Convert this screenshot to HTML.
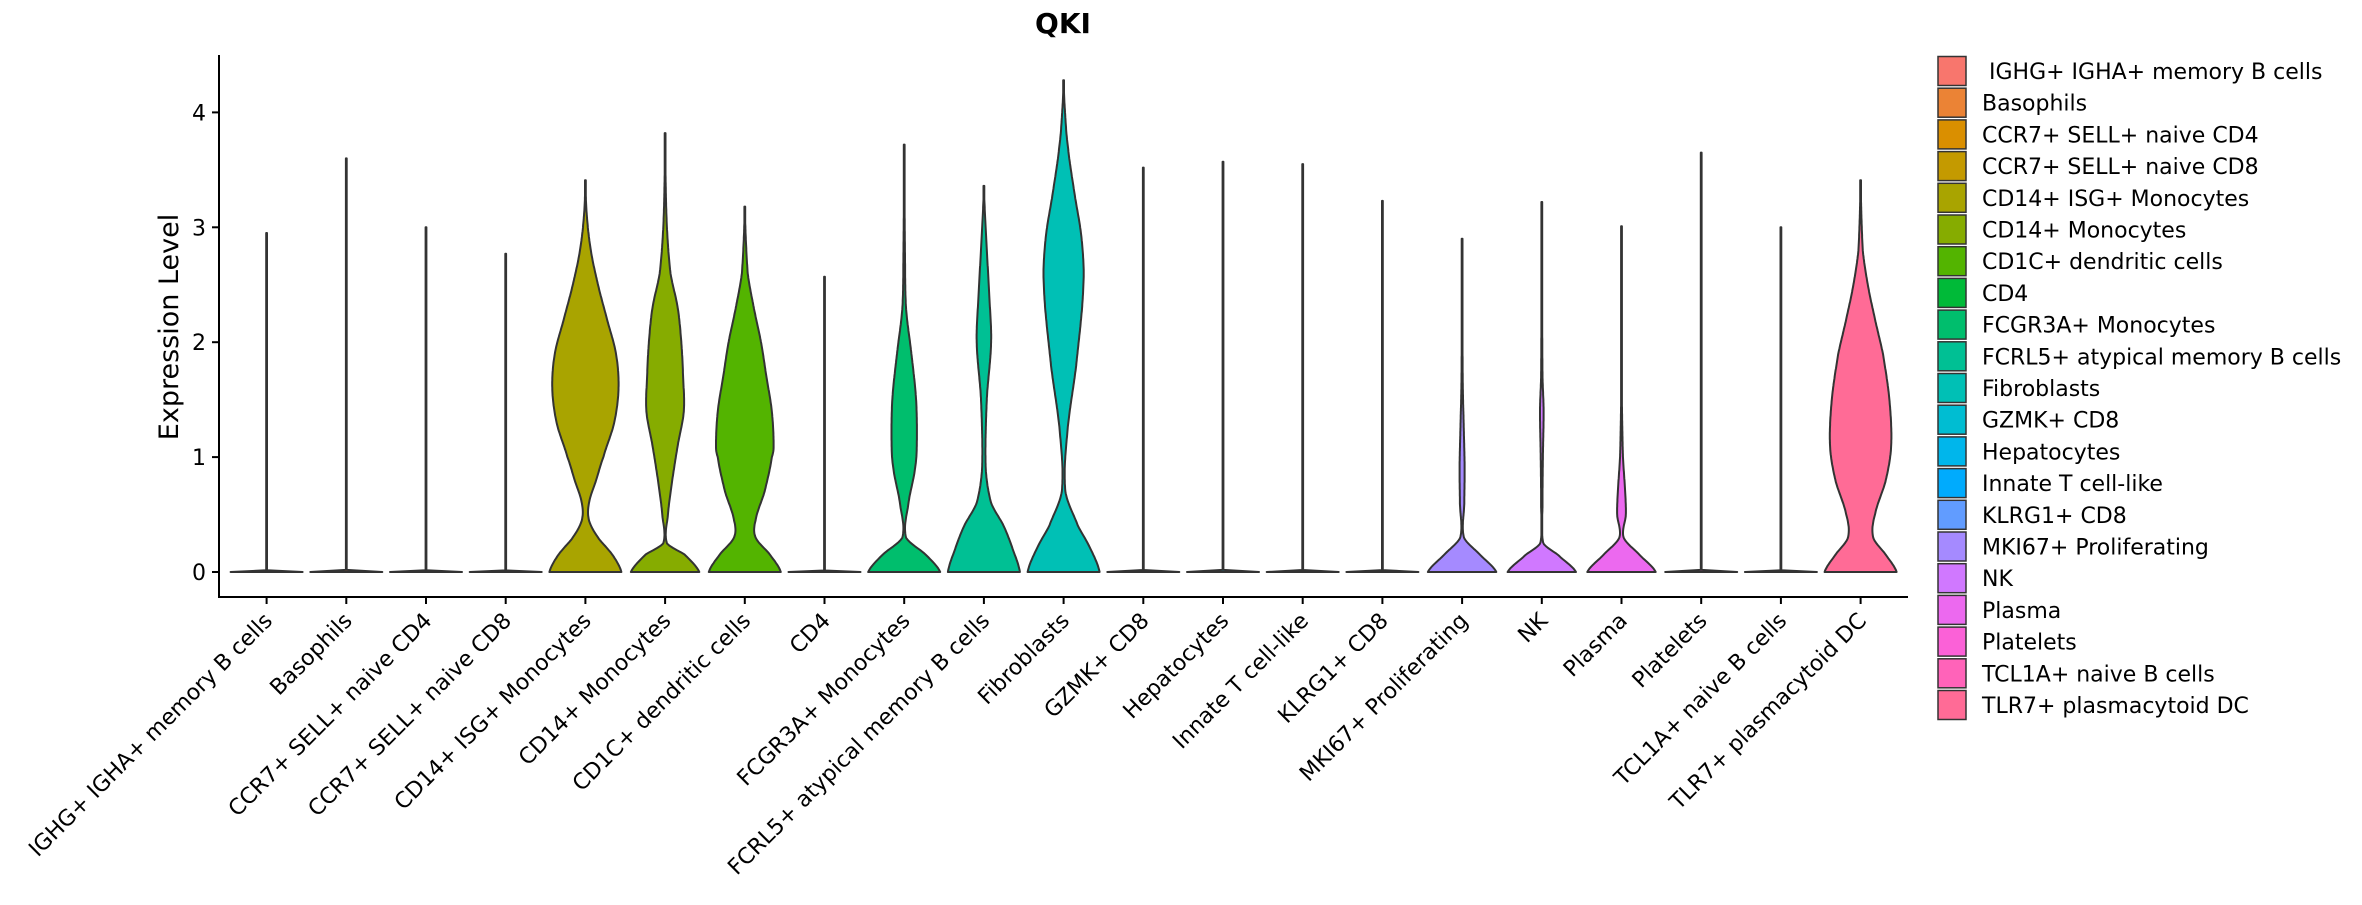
<!DOCTYPE html>
<html><head><meta charset="utf-8"><style>
html,body{margin:0;padding:0;background:#fff;}
svg text{font-family:"DejaVu Sans","Liberation Sans",sans-serif;fill:#000;}
</style></head><body>
<svg id="chart" width="2362" height="900" viewBox="0 0 2362 900" xmlns="http://www.w3.org/2000/svg">
<text x="1063" y="33" text-anchor="middle" font-size="28" font-weight="bold">QKI</text>
<g id="plot"></g>
<g id="legend"></g>
</svg>
<script>
const categories = ["IGHG+ IGHA+ memory B cells","Basophils","CCR7+ SELL+ naive CD4","CCR7+ SELL+ naive CD8","CD14+ ISG+ Monocytes","CD14+ Monocytes","CD1C+ dendritic cells","CD4","FCGR3A+ Monocytes","FCRL5+ atypical memory B cells","Fibroblasts","GZMK+ CD8","Hepatocytes","Innate T cell-like","KLRG1+ CD8","MKI67+ Proliferating","NK","Plasma","Platelets","TCL1A+ naive B cells","TLR7+ plasmacytoid DC"];
const maxValues = [2.95,3.6,3.0,2.77,3.41,3.82,3.18,2.57,3.72,3.36,4.28,3.52,3.57,3.55,3.23,2.9,3.22,3.01,3.65,3.0,3.41];
const profileValues = {
 4:[0,0.15,0.3,0.45,0.6,0.8,1.0,1.3,1.6,1.9,2.2,2.5,2.8,3.1,3.41],
 5:[0,0.15,0.25,0.5,0.8,1.1,1.4,1.7,2.0,2.3,2.6,3.0,3.5,3.82],
 6:[0,0.15,0.3,0.45,0.7,1.0,1.1,1.4,1.7,2.0,2.3,2.6,3.18],
 8:[0,0.15,0.3,0.6,0.9,1.1,1.5,1.9,2.3,2.8,3.72],
 9:[0,0.2,0.4,0.6,0.9,1.5,2.0,2.4,2.8,3.36],
 10:[0,0.2,0.4,0.7,1.2,1.8,2.5,2.9,3.3,3.7,4.0,4.28],
 15:[0,0.15,0.3,0.6,0.9,1.2,1.6,2.0,2.9],
 16:[0,0.15,0.25,0.6,1.0,1.4,1.7,2.2,3.22],
 17:[0,0.15,0.3,0.5,0.7,1.0,1.5,3.01],
 20:[0,0.15,0.3,0.5,0.8,1.1,1.5,1.9,2.2,2.5,2.8,3.41]
};
const profileDensity = {
 4:[1.0,0.75,0.35,0.1,0.1,0.3,0.5,0.8,0.92,0.85,0.6,0.35,0.15,0.04,0],
 5:[0.95,0.55,0.05,0.08,0.2,0.35,0.52,0.5,0.45,0.35,0.15,0.05,0.01,0],
 6:[1.0,0.7,0.3,0.3,0.55,0.75,0.8,0.75,0.6,0.45,0.25,0.08,0],
 8:[1.0,0.6,0.05,0.12,0.3,0.35,0.33,0.2,0.05,0.02,0],
 9:[1.0,0.8,0.55,0.2,0.05,0.08,0.2,0.15,0.08,0],
 10:[1.0,0.75,0.4,0.05,0.1,0.35,0.55,0.5,0.3,0.12,0.04,0],
 15:[0.95,0.5,0.05,0.06,0.07,0.05,0.02,0.01,0],
 16:[0.95,0.45,0.04,0.02,0.03,0.05,0.02,0.01,0],
 17:[0.95,0.5,0.06,0.12,0.1,0.04,0.01,0],
 20:[1.0,0.7,0.35,0.4,0.7,0.85,0.8,0.62,0.4,0.2,0.06,0]
};
const yTicks = [0,1,2,3,4];

const NS="http://www.w3.org/2000/svg";
const x0=266.6, dx=79.7, halfW=36;
const yZero=572, yPerUnit=114.9;
const xScale=i=>x0+i*dx;
const yScale=v=>yZero-v*yPerUnit;

function hcl(h,c,l){
 const hr=h*Math.PI/180, L=l, U=c*Math.cos(hr), V=c*Math.sin(hr);
 const Xn=95.047,Yn=100,Zn=108.883;
 const un=4*Xn/(Xn+15*Yn+3*Zn), vn=9*Yn/(Xn+15*Yn+3*Zn);
 const Y=L>8?Yn*Math.pow((L+16)/116,3):Yn*L/903.3;
 const u=U/(13*L)+un, v=V/(13*L)+vn;
 const X=9*Y*u/(4*v), Z=-X/3-5*Y+3*Y/v;
 const x=X/100,y=Y/100,z=Z/100;
 let r=3.240479*x-1.53715*y-0.498535*z, g=-0.969256*x+1.875992*y+0.041556*z, b=0.055648*x-0.204043*y+1.057311*z;
 const f=t=>{t=t<=0.0031308?12.92*t:1.055*Math.pow(t,1/2.4)-0.055;return Math.round(Math.max(0,Math.min(1,t))*255);};
 return `rgb(${f(r)},${f(g)},${f(b)})`;
}
const n=categories.length;
const colors=categories.map((_,i)=>hcl(15+360/n*i,100,65));

const plot=document.getElementById('plot');
function mk(tag,attrs){const e=document.createElementNS(NS,tag);for(const k in attrs)e.setAttribute(k,attrs[k]);return e;}

let ax=mk('line',{x1:219,y1:55,x2:219,y2:597,stroke:'#000','stroke-width':2});


plot.appendChild(ax);
let bx=mk('line',{x1:218,y1:597,x2:1908,y2:597,stroke:'#000','stroke-width':2});


plot.appendChild(bx);

yTicks.forEach(t=>{
 const y=yScale(t);
 const tk=mk('line',{x1:212,y1:y,x2:219,y2:y,stroke:'#000','stroke-width':2});
 
 
 plot.appendChild(tk);
 const tx=mk('text',{x:206,y:y+8,'text-anchor':'end','font-size':22});
 
 
 tx.textContent=t; plot.appendChild(tx);
});
const yt=mk('text',{x:0,y:0,'text-anchor':'middle','font-size':27,transform:'translate(178,327) rotate(-90)'});


yt.textContent='Expression Level'; plot.appendChild(yt);

function interp(vals,dens,v){
 const m=vals.length;
 if(v>=vals[m-1])return 0;
 for(let k=0;k<m-1;k++){
  if(v>=vals[k]&&v<=vals[k+1]){
   const t=(v-vals[k])/(vals[k+1]-vals[k]||1);
   const p0=dens[Math.max(0,k-1)],p1=dens[k],p2=dens[k+1],p3=dens[Math.min(m-1,k+2)];
   const t2=t*t,t3=t2*t;
   return 0.5*((2*p1)+(-p0+p2)*t+(2*p0-5*p1+4*p2-p3)*t2+(-p0+3*p1-3*p2+p3)*t3);
  }
 }
 return 0;
}

categories.forEach((c,i)=>{
 const cx=xScale(i);
 let vals=profileValues[i], dens=profileDensity[i];
 const flat=!vals;
 if(flat){vals=[0,0.015,maxValues[i]];dens=[1,0.01,0];}
 const pts=[];
 const top=maxValues[i], steps=200;
 for(let s=0;s<=steps;s++){
  const v=top*s/steps;
  let w=flat?(v<0.01?1:0):interp(vals,dens,v);
  w=Math.min(1,Math.max(w,0.012));
  pts.push([v,w]);
 }
 let d='';
 pts.forEach((p,k)=>{d+=(k?'L':'M')+(cx+p[1]*halfW).toFixed(1)+','+yScale(p[0]).toFixed(1);});
 for(let k=pts.length-1;k>=0;k--){const p=pts[k];d+='L'+(cx-p[1]*halfW).toFixed(1)+','+yScale(p[0]).toFixed(1);}
 d+='Z';
 const path=mk('path',{d:d,fill:colors[i],stroke:'#333','stroke-width':2,'stroke-linejoin':'round'});
 
 
 plot.appendChild(path);
 const tk=mk('line',{x1:cx,y1:597,x2:cx,y2:604,stroke:'#000','stroke-width':2});
 
 
 plot.appendChild(tk);
 const tx=mk('text',{x:0,y:0,'text-anchor':'end','font-size':22,transform:`translate(${cx+7},${622}) rotate(-45)`});
 
 
 tx.textContent=c; plot.appendChild(tx);
});

const lg=document.getElementById('legend');
categories.forEach((c,i)=>{
 const y=55+i*31.7;
 const r=mk('rect',{x:1938,y:y+1.5,width:28,height:29,fill:colors[i],stroke:'#333','stroke-width':1.5});
 
 
 lg.appendChild(r);
 const t=mk('text',{x:1982,y:y+24,'font-size':22});
 
 
 t.textContent=(i===0?'\u00a0':'')+c; lg.appendChild(t);
});
</script>
</body></html>
